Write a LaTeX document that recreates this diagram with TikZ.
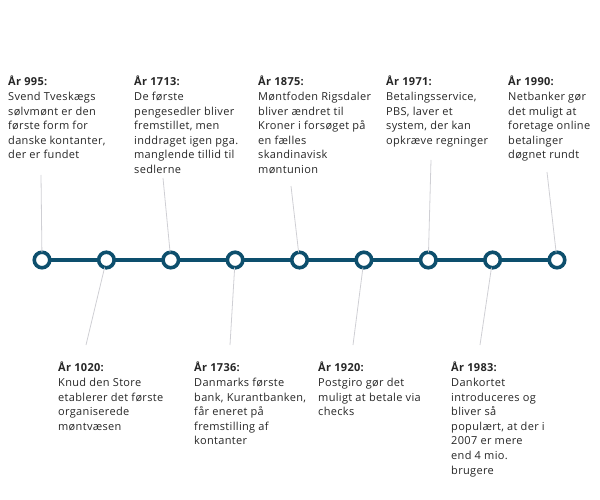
\documentclass[tikz,border=0pt]{standalone}
\usepackage{fontspec}
\setmainfont{Open Sans}[LetterSpace=3]
\usetikzlibrary{positioning}
\definecolor{tealblue}{HTML}{0D4F6D}
\definecolor{guidegray}{HTML}{CFCFD4}

\begin{document}
\begin{tikzpicture}[x=1pt,y=-1pt]
  \tikzset{DotStyle/.style = {
    shape         = circle,
    draw          = tealblue,
    fill          = white,
    line width    = 3.6pt,
    inner sep     = 0pt,
    outer sep     = 0pt,
    minimum size  = 15.5pt
    }
  }
  \tikzset{LineStyle/.style = {
    draw          = tealblue,
    line width    = 3.6pt
    }
  }
  \tikzset{GuideStyle/.style = {
    draw          = guidegray,
    line width    = 0.8pt
    }
  }
  \tikzset{NoteStyle/.style = {
    anchor        = north west,
    align         = left,
    inner sep     = 0pt,
    text          = black!85,
    font          = \fontsize{11}{14.6}\selectfont
    }
  }

  \useasboundingbox (0,0) rectangle (600,500);

	\node[DotStyle](c1) at (42, 260) {};
	\node[DotStyle](c2) at (106.4, 260) {};
	\node[DotStyle](c3) at (170.8, 260) {};
	\node[DotStyle](c4) at (235.1, 260) {};
	\node[DotStyle](c5) at (299.5, 260) {};
	\node[DotStyle](c6) at (363.9, 260) {};
	\node[DotStyle](c7) at (428.3, 260) {};
	\node[DotStyle](c8) at (492.6, 260) {};
	\node[DotStyle](c9) at (557, 260) {};
	\draw[LineStyle](c1) to (c2);
	\draw[LineStyle](c2) to (c3);
	\draw[LineStyle](c3) to (c4);
	\draw[LineStyle](c4) to (c5);
	\draw[LineStyle](c5) to (c6);
	\draw[LineStyle](c6) to (c7);
	\draw[LineStyle](c7) to (c8);
	\draw[LineStyle](c8) to (c9);

	\node[NoteStyle](t1) at (8, 76) {\textbf{År 995:}\\Svend Tveskægs\\sølvmønt er den\\første form for\\danske kontanter,\\der er fundet};
	\node[NoteStyle](t2) at (58, 362) {\textbf{År 1020:}\\Knud den Store\\etablerer det første\\organiserede\\møntvæsen};
	\node[NoteStyle](t3) at (134, 76) {\textbf{År 1713:}\\De første\\pengesedler bliver\\fremstillet, men\\inddraget igen pga.\\manglende tillid til\\sedlerne};
	\node[NoteStyle](t4) at (194, 362) {\textbf{År 1736:}\\Danmarks første\\bank, Kurantbanken,\\får eneret på\\fremstilling af\\kontanter};
	\node[NoteStyle](t5) at (258, 76) {\textbf{År 1875:}\\Møntfoden Rigsdaler\\bliver ændret til\\Kroner i forsøget på\\en fælles\\skandinavisk\\møntunion};
	\node[NoteStyle](t6) at (318, 362) {\textbf{År 1920:}\\Postgiro gør det\\muligt at betale via\\checks};
	\node[NoteStyle](t7) at (386, 76) {\textbf{År 1971:}\\Betalingsservice,\\PBS, laver et\\system, der kan\\opkræve regninger};
	\node[NoteStyle](t8) at (451, 362) {\textbf{År 1983:}\\Dankortet\\introduceres og\\bliver så\\populært, at der i\\2007 er mere\\end 4 mio.\\brugere};
	\node[NoteStyle](t9) at (508, 76) {\textbf{År 1990:}\\Netbanker gør\\det muligt at\\foretage online\\betalinger\\døgnet rundt};

	\coordinate (p1) at (41, 175);
	\coordinate (p2) at (86, 345);
	\coordinate (p3) at (163, 178);
	\coordinate (p4) at (230, 345);
	\coordinate (p5) at (291, 186);
	\coordinate (p6) at (353, 345);
	\coordinate (p7) at (431, 160);
	\coordinate (p8) at (480, 345);
	\coordinate (p9) at (547, 172);
	\draw[GuideStyle](p1) to (c1);
	\draw[GuideStyle](p2) to (c2);
	\draw[GuideStyle](p3) to (c3);
	\draw[GuideStyle](p4) to (c4);
	\draw[GuideStyle](p5) to (c5);
	\draw[GuideStyle](p6) to (c6);
	\draw[GuideStyle](p7) to (c7);
	\draw[GuideStyle](p8) to (c8);
	\draw[GuideStyle](p9) to (c9);

\end{tikzpicture}
\end{document}
